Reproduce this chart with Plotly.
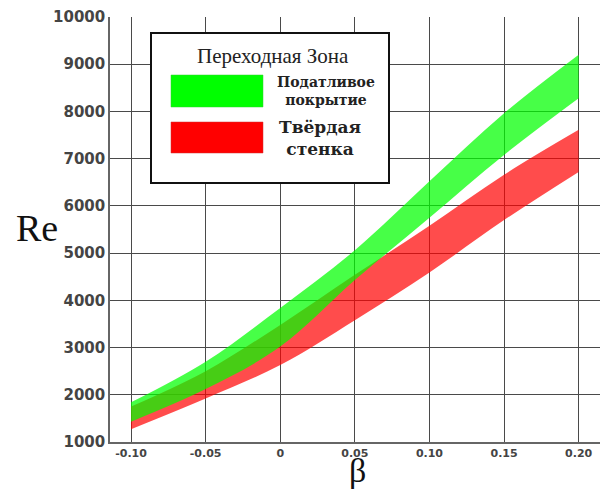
import plotly.graph_objects as go

beta = [-0.10, -0.05, 0.0, 0.05, 0.10, 0.15, 0.20]
green_upper = [1840, 2700, 3840, 5060, 6520, 7960, 9200]
green_lower = [1430, 2120, 3020, 4430, 5750, 7080, 8280]
red_upper = [1750, 2500, 3480, 4540, 5580, 6660, 7610]
red_lower = [1270, 1920, 2630, 3580, 4590, 5700, 6720]

x_ticks = [-0.10, -0.05, 0.0, 0.05, 0.10, 0.15, 0.20]
x_tick_labels = ["-0.10", "-0.05", "0", "0.05", "0.10", "0.15", "0.20"]
y_ticks = [1000, 2000, 3000, 4000, 5000, 6000, 7000, 8000, 9000, 10000]

legend_title = "Переходная Зона"
legend_green = "Податливое<br>покрытие"
legend_red = "Твёрдая<br>стенка"

W, H = 601, 492
L, R, T, B = 110, 1, 17, 50
pw, ph = W - L - R, H - T - B


def px(xp):
    return (xp - L) / pw


def py(yp):
    return (H - B - yp) / ph


fig = go.Figure()

red_fill = "rgba(255,0,0,0.70)"
green_fill = "rgba(0,255,0,0.72)"

fig.add_trace(go.Scatter(x=beta, y=red_lower, mode="lines", line=dict(width=0, shape="spline"),
                         showlegend=False, hoverinfo="skip"))
fig.add_trace(go.Scatter(x=beta, y=red_upper, mode="lines", line=dict(width=0, shape="spline"),
                         fill="tonexty", fillcolor=red_fill, showlegend=False, name="Твёрдая стенка"))
fig.add_trace(go.Scatter(x=beta, y=green_lower, mode="lines", line=dict(width=0, shape="spline"),
                         showlegend=False, hoverinfo="skip"))
fig.add_trace(go.Scatter(x=beta, y=green_upper, mode="lines", line=dict(width=0, shape="spline"),
                         fill="tonexty", fillcolor=green_fill, showlegend=False, name="Податливое покрытие"))

shapes = [
    dict(type="rect", xref="paper", yref="paper", x0=px(151), x1=px(389), y0=py(183), y1=py(33),
         line=dict(color="#111", width=2), fillcolor="white", layer="above"),
    dict(type="rect", xref="paper", yref="paper", x0=px(171), x1=px(263), y0=py(107), y1=py(75),
         line=dict(color="#3c3", width=0.5), fillcolor="#00FF00", layer="above"),
    dict(type="rect", xref="paper", yref="paper", x0=px(171), x1=px(263), y0=py(153), y1=py(122),
         line=dict(color="#c33", width=0.5), fillcolor="#FF0000", layer="above"),
]

annotations = [
    dict(text=legend_title, xref="paper", yref="paper", x=px(273), y=py(56), showarrow=False,
         font=dict(family="Liberation Serif", size=21, color="#222"), xanchor="center", yanchor="middle"),
    dict(text="<b>" + legend_green.replace("<br>", "</b><br><b>") + "</b>", xref="paper", yref="paper",
         x=px(326), y=py(91), showarrow=False,
         font=dict(family="DejaVu Serif", size=14, color="#222"), xanchor="center", yanchor="middle",
         align="center"),
    dict(text="<b>" + legend_red.replace("<br>", "</b><br><b>") + "</b>", xref="paper", yref="paper",
         x=px(320), y=py(138), showarrow=False,
         font=dict(family="DejaVu Serif", size=17, color="#222"), xanchor="center", yanchor="middle",
         align="center"),
    dict(text="Re", xref="paper", yref="paper", x=px(37), y=py(228), showarrow=False,
         font=dict(family="Liberation Serif", size=38, color="#111"), xanchor="center", yanchor="middle"),
    dict(text="β", xref="paper", yref="paper", x=px(357), y=py(470), showarrow=False,
         font=dict(family="Liberation Serif", size=34, color="#111"), xanchor="center", yanchor="middle"),
]

fig.update_layout(
    width=W, height=H,
    margin=dict(l=L, r=R, t=T, b=B),
    paper_bgcolor="white", plot_bgcolor="white",
    shapes=shapes, annotations=annotations,
    showlegend=False,
    xaxis=dict(range=[-0.1141, 0.2143], tickvals=x_ticks, ticktext=x_tick_labels,
               showgrid=True, gridcolor="#4a4a4a", gridwidth=1, zeroline=False,
               showline=True, linecolor="#666", linewidth=1.5, ticks="",
               tickfont=dict(family="DejaVu Sans", size=11, color="#444", weight="bold")),
    yaxis=dict(range=[1000, 10000], tickvals=y_ticks, showgrid=True, gridcolor="#4a4a4a", gridwidth=1,
               zeroline=False, showline=True, linecolor="#666", linewidth=1.5, ticks="",
               tickformat="d",
               tickfont=dict(family="DejaVu Sans", size=15, color="#444", weight="bold")),
)

fig.write_html("out.html")
